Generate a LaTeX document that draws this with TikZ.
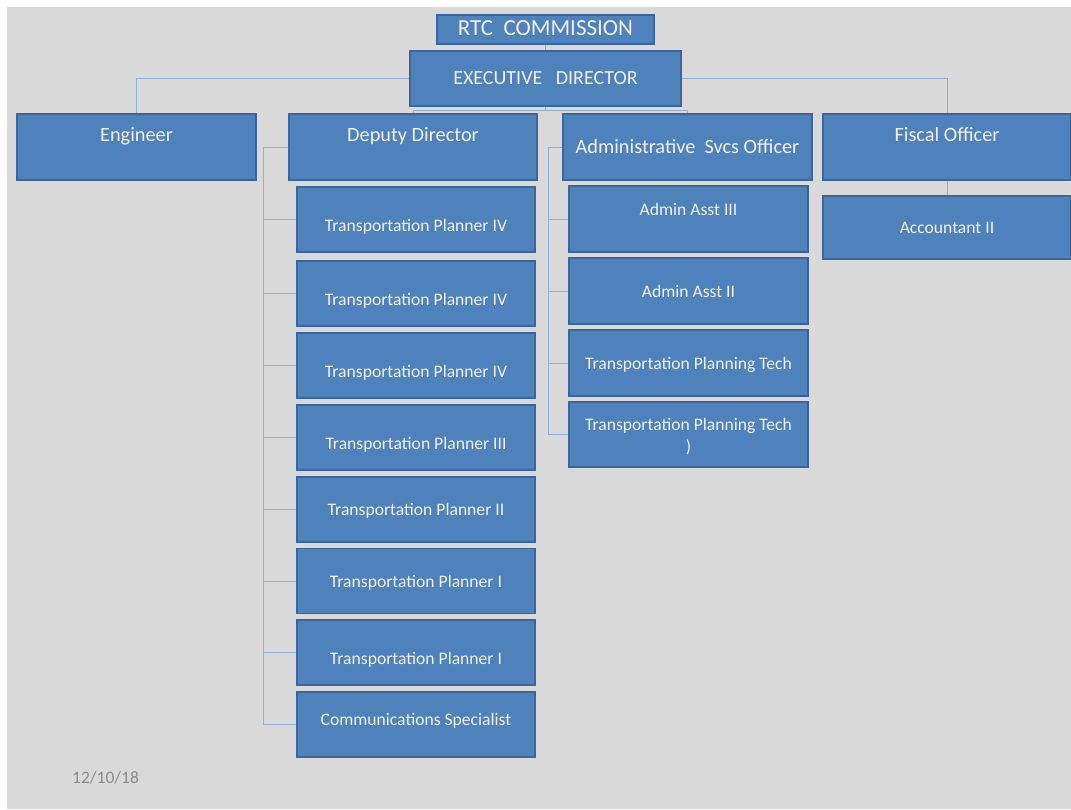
\documentclass[tikz,border=0pt]{standalone}
\usepackage{fontspec}
\setmainfont{Carlito}
\definecolor{bg}{HTML}{D9D9D9}
\definecolor{boxfill}{HTML}{4F81BD}
\definecolor{boxline}{HTML}{3A6699}
\definecolor{conncol}{HTML}{8EB0D8}
\definecolor{txt}{HTML}{F2F2F2}
\definecolor{datecol}{HTML}{8C8C8C}
\tikzset{
  box/.style={draw=boxline, line width=1.4pt, fill=boxfill, text=txt,
    inner sep=0pt, align=center, text height=16pt, text depth=4pt},
  conn/.style={draw=conncol, line width=1pt},
  bigt/.style={font=\fontsize{20.3}{22}\selectfont},
  smlt/.style={font=\fontsize{17.6}{22}\selectfont},
}
\begin{document}
\begin{tikzpicture}[x=1pt,y=-1pt]
\useasboundingbox (0,0) rectangle (1071,809);
\fill[white] (0,0) rectangle (1071,809);
\fill[bg] (7,7) rectangle (1071,809);
% top
\node[box,font=\fontsize{23}{24}\selectfont,minimum width=217pt,minimum height=29pt,text height=15pt,text depth=3pt] (rtc) at (545.5,29.5) {RTC\ \ COMMISSION};
\node[box,font=\fontsize{20}{22}\selectfont,minimum width=271pt,minimum height=55pt] (ed) at (545.5,78.5) {EXECUTIVE\ \ \ DIRECTOR};
% level 2
\node[box,bigt,minimum width=239pt,minimum height=66pt,text depth=28pt] (eng) at (136.5,147) {Engineer};
\node[box,bigt,minimum width=248pt,minimum height=66pt,text depth=28pt] (dep) at (413,147) {Deputy Director};
\node[box,bigt,minimum width=249pt,minimum height=66pt] (adm) at (687.5,147) {Administrative\ \ Svcs Officer};
\node[box,bigt,minimum width=248pt,minimum height=66pt,text depth=28pt] (fis) at (947,147) {Fiscal Officer};
\node[box,smlt,minimum width=248pt,minimum height=63pt] (acc) at (947,227.5) {Accountant II};
% deputy children
\foreach \n/\y/\t/\hh/\dd in {
  c1/219.5/{Transportation Planner IV}/28/4,
  c2/293.5/{Transportation Planner IV}/28/4,
  c3/365.5/{Transportation Planner IV}/28/4,
  c4/437.5/{Transportation Planner III}/28/4,
  c5/509.5/{Transportation Planner II}/16/4,
  c6/581/{Transportation Planner I}/16/4,
  c7/652.5/{Transportation Planner I}/28/4,
  c8/724.5/{Communications Specialist}/16/14}
{
  \node[box,smlt,minimum width=238pt,minimum height=65pt,text height=\hh pt,text depth=\dd pt] (\n) at (416,\y) {\t};
}
% admin children
\node[box,smlt,minimum width=239pt,minimum height=66pt,text depth=24pt] (a1) at (688.5,219) {Admin Asst III};
\node[box,smlt,minimum width=239pt,minimum height=66pt] (a2) at (688.5,291) {Admin Asst II};
\node[box,smlt,minimum width=239pt,minimum height=66pt] (a3) at (688.5,363) {Transportation Planning Tech};
\node[box,smlt,minimum width=239pt,minimum height=65pt,text height=40pt] (a4) at (688.5,434.5) {Transportation Planning Tech\\)};
% connectors
\draw[conn] (rtc.south) -- (ed.north);
\draw[conn] (ed.west) -| (eng.north);
\draw[conn] (ed.east) -| (fis.north);
\coordinate (ej) at (545.5,110);
\draw[conn] (ed.south) -- (ej) -| (dep.north);
\draw[conn] (ej) -| (adm.north);
\draw[conn] (fis.south) -- (acc.north);
\coordinate (dv) at (263,147);
\foreach \n in {c1,c2,c3,c4,c5,c6,c7,c8} {\draw[conn] (dep.west) -- (dv) |- (\n.west);}
\coordinate (av) at (548,147);
\foreach \n in {a1,a2,a3,a4} {\draw[conn] (adm.west) -- (av) |- (\n.west);}
% date
\node[text=datecol,font=\fontsize{17.5}{18}\selectfont,anchor=west,inner sep=0pt] (date) at (72,778) {12/10/18};
\end{tikzpicture}
\end{document}
